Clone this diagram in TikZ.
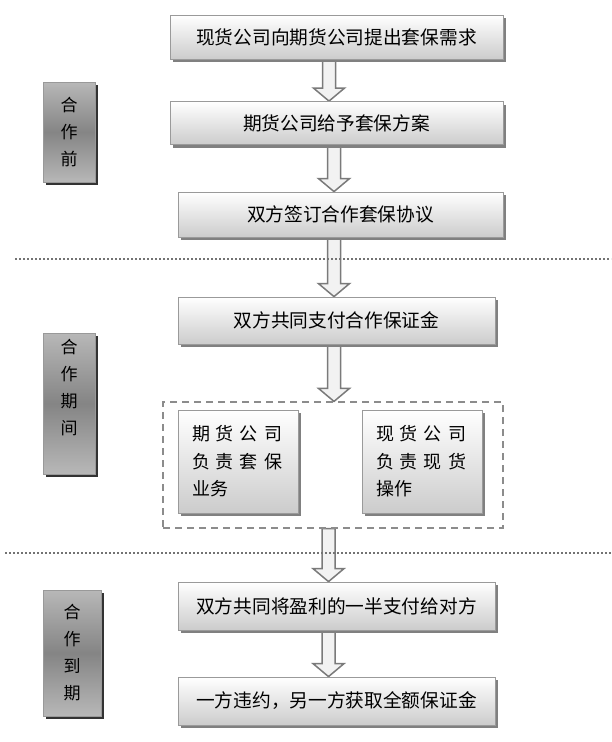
\documentclass[tikz,border=0pt]{standalone}
\usepackage{fontspec}
\setmainfont{Noto Sans CJK SC}
\usetikzlibrary{shadows,calc,backgrounds}
\newcommand\gp{\hspace{6pt}}
\definecolor{bordergray}{HTML}{9A9A9A}
\definecolor{arrowgray}{HTML}{7A7A7A}
\definecolor{arrowfill}{HTML}{F2F2F2}
\tikzset{
  mainbox/.style={draw=bordergray, line width=0.8pt, top color=white, bottom color=black!20,
    drop shadow={shadow xshift=3pt, shadow yshift=-3pt, fill=black!50, opacity=1},
    font=\fontsize{18.7}{20}\selectfont, inner sep=0pt},
  innerbox/.style={mainbox, align=left, text width=92pt,
    font=\fontsize{18}{27.5}\selectfont},
  sidebox/.style={draw=black!40, line width=0.8pt, top color=black!28, bottom color=black!28,
    middle color=black!48,
    drop shadow={shadow xshift=3pt, shadow yshift=-3pt, fill=black!80, opacity=1},
    align=center, font=\fontsize{17}{27}\selectfont, inner sep=0pt},
  blkarr/.style={draw=arrowgray, fill=arrowfill, line width=1.5pt, line join=miter},
  sepline/.style={draw=black!55, line width=1.6pt, dash pattern=on 1.6pt off 2.4pt},
  grpbox/.style={draw=black!45, line width=1.2pt, dash pattern=on 7pt off 5pt}
}
\newcommand\blkarrow[3]{%
  \begin{scope}[on background layer]
  \path[blkarr] let \p1=(#1), \p2=(#2) in
    ({#3pt-6.5pt},\y1) -- ({#3pt-6.5pt},{\y2+13pt}) -- ({#3pt-15.5pt},{\y2+13pt}) --
    ({#3pt},\y2) -- ({#3pt+15.5pt},{\y2+13pt}) -- ({#3pt+6.5pt},{\y2+13pt}) --
    ({#3pt+6.5pt},\y1) -- cycle;
  \end{scope}}
\begin{document}
\begin{tikzpicture}[x=1pt,y=-1pt]
\useasboundingbox (0,0) rectangle (611,742);
% separator lines
\draw[sepline] (15,259) -- (611,259);
\draw[sepline] (5,553) -- (611,553);
% main boxes
\node[mainbox, minimum width=333, minimum height=44] (b1) at (336.5,37) {现货公司向期货公司提出套保需求};
\node[mainbox, minimum width=333, minimum height=43] (b2) at (336.5,123) {期货公司给予套保方案};
\node[mainbox, minimum width=325, minimum height=45] (b3) at (340.5,214.5) {双方签订合作套保协议};
\node[mainbox, minimum width=317, minimum height=47] (b4) at (336.5,320.5) {双方共同支付合作保证金};
\node[grpbox, minimum width=340, minimum height=126, inner sep=0pt] (g) at (333,465) {};
\node[innerbox, minimum width=120, minimum height=103] (l) at (238,461.5) {期\gp 货\gp 公\gp 司\\负\gp 责\gp 套\gp 保\\业务};
\node[innerbox, minimum width=120, minimum height=103] (r) at (422,461.5) {现\gp 货\gp 公\gp 司\\负\gp 责\gp 现\gp 货\\操作};
\node[mainbox, minimum width=317, minimum height=48] (b5) at (336.5,606) {双方共同将盈利的一半支付给对方};
\node[mainbox, minimum width=317, minimum height=48] (b6) at (336.5,701) {一方违约，另一方获取全额保证金};
% side labels
\node[sidebox, minimum width=52, minimum height=100] (s1) at (69,132) {合\\作\\前};
\node[sidebox, minimum width=52, minimum height=141] (s2) at (69,403.5) {合\\作\\期\\间\\[6pt]};
\node[sidebox, minimum width=58, minimum height=126] (s3) at (72,653) {合\\作\\到\\期};
% block arrows
\blkarrow{b1.south}{b2.north}{329}
\blkarrow{b2.south}{b3.north}{334}
\blkarrow{b3.south}{b4.north}{334}
\blkarrow{b4.south}{g.north}{334}
\blkarrow{g.south}{b5.north}{328.5}
\blkarrow{b5.south}{b6.north}{328.5}
\end{tikzpicture}
\end{document}
